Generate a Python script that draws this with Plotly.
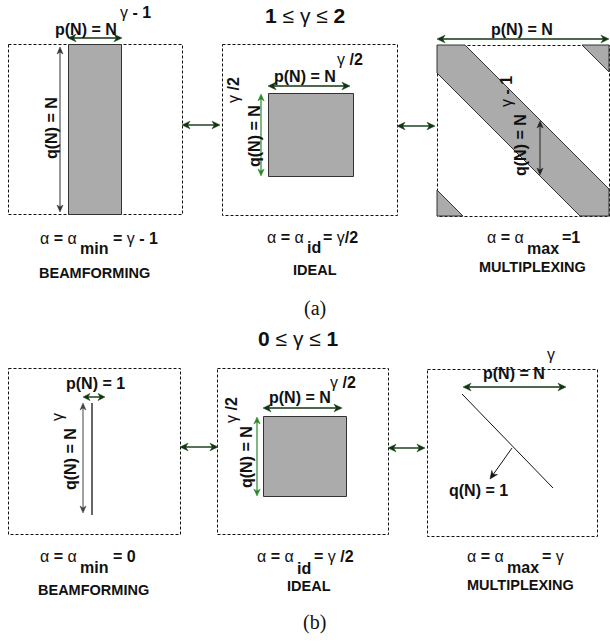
import math
import re
import plotly.graph_objects as go

# ---------------- content (text / values) ----------------
gamma_ranges = [("1", "2"), ("0", "1")]          # panel (a), panel (b)
panel_labels = ["(a)", "(b)"]
schemes = ["BEAMFORMING", "IDEAL", "MULTIPLEXING"]
alpha_subs = ["min", "id", "max"]
alpha_vals_a = ["= γ - 1", "= γ/2", "=1"]
alpha_vals_b = ["= 0", "= γ /2", "= γ"]
p_base_a = ["p(N) = N", "p(N) = N", "p(N) = N"]
p_exp_a = ["γ - 1", "γ /2", ""]
q_base_a = ["q(N) = N", "q(N) = N", "q(N) = N"]
q_exp_a = ["", "γ /2", "γ - 1"]
p_base_b = ["p(N) = 1", "p(N) = N", "p(N) = N"]
p_exp_b = ["", "γ /2", "γ"]
q_base_b = ["q(N) = N", "q(N) = N", "q(N) = 1"]
q_exp_b = ["γ", "γ /2", ""]

SANS = "Liberation Sans, Arial, sans-serif"
SERIF = "Liberation Serif, Times New Roman, serif"
INK = "#111111"
GRAY = "#ababab"
EDGE = "#333333"
ARW = "#0f360f"
GREEN = "#2a8a2a"
LBL = 16

shapes = []
ann = []


def fmt(s):
    """Bold for latin/digits, regular weight for greek/relation symbols."""
    out = []
    for run in re.findall(r"[αγ≤]+|[^αγ≤]+", s):
        if run[0] in "αγ≤":
            out.append(run)
        else:
            out.append(f"<b>{run}</b>")
    return "".join(out)


def box(x0, y0, x1, y1):
    shapes.append(dict(type="rect", x0=x0 + 0.5, y0=y0 + 0.5, x1=x1 + 0.5, y1=y1 + 0.5,
                       line=dict(color="#111111", width=1, dash="3px,2px"),
                       fillcolor="rgba(0,0,0,0)", layer="below"))


def fillrect(x0, y0, x1, y1):
    shapes.append(dict(type="rect", x0=x0 + 0.5, y0=y0 + 0.5, x1=x1 + 0.5, y1=y1 + 0.5,
                       line=dict(color=EDGE, width=1), fillcolor=GRAY))


def poly(pts, fill=GRAY, edge=EDGE, width=1):
    d = "M " + " L ".join(f"{x:.2f},{y:.2f}" for x, y in pts) + " Z"
    shapes.append(dict(type="path", path=d, line=dict(color=edge, width=width),
                       fillcolor=fill))


def line(x0, y0, x1, y1, color="#111", width=1):
    shapes.append(dict(type="line", x0=x0, y0=y0, x1=x1, y1=y1,
                       line=dict(color=color, width=width)))


def head(tx, ty, ux, uy, color, hl, hw):
    px, py = -uy, ux
    bx, by = tx - ux * hl, ty - uy * hl
    poly([(tx, ty), (bx + px * hw, by + py * hw), (bx + ux * hl * 0.3, by + uy * hl * 0.3),
          (bx - px * hw, by - py * hw)], fill=color, edge=color, width=0.5)


def arrow(x0, y0, x1, y1, color=ARW, width=1.4, both=True, hl=8, hw=3.8):
    L = math.hypot(x1 - x0, y1 - y0)
    ux, uy = (x1 - x0) / L, (y1 - y0) / L
    sx, sy = (x0 + ux * hl * 0.6, y0 + uy * hl * 0.6) if both else (x0, y0)
    line(sx, sy, x1 - ux * hl * 0.6, y1 - uy * hl * 0.6, color=color, width=width)
    head(x1, y1, ux, uy, color, hl, hw)
    if both:
        head(x0, y0, -ux, -uy, color, hl, hw)


def text(x, y, s, size=LBL, angle=0, family=SANS, color=INK, plain=False, anchor="center"):
    ann.append(dict(x=x, y=y, xref="x", yref="y", text=(s if plain else fmt(s)),
                    showarrow=False, textangle=angle, xanchor=anchor, yanchor="middle",
                    borderpad=0, font=dict(size=size, family=family, color=color)))


def alpha_label(xs, xr, ym, ys, sub, val, size=16):
    text(xs - 1, ym, "α = α", size=size, anchor="right")
    text(xs, ys, sub, size=size, anchor="left")
    text(xr, ym, val, size=size, anchor="left")


# ================= panel (a) =================
lo, hi = gamma_ranges[0]
text(305, 15, f"{lo} ≤ γ ≤ {hi}", size=21)

# box 1 : beamforming
box(8, 44, 182, 214)
fillrect(68, 44, 121, 214)
arrow(68, 38, 122, 38)
text(86, 29, p_base_a[0])
text(135, 12, p_exp_a[0])
arrow(60, 47, 60, 212, color="#333", width=1, hl=7, hw=3)
text(51, 128, q_base_a[0], angle=-90)

arrow(182, 125, 220, 125)

# box 2 : ideal
box(222, 44, 397, 215)
fillrect(268, 93, 353, 176)
arrow(268, 86, 350, 86)
text(305, 76, p_base_a[1])
text(350, 59, p_exp_a[1])
arrow(261, 94, 261, 176, color=GREEN, width=1.2, hl=7, hw=3.2)
text(254, 136, q_base_a[1], angle=-90)
text(233, 90, q_exp_a[1], angle=-90)

arrow(397, 126, 435, 126)

# box 3 : multiplexing (wrapped diagonal band)
box(437, 45, 609, 216)
poly([(437, 45), (465, 45), (609, 189), (609, 216), (580, 216), (437, 73)])
poly([(582, 45), (609, 45), (609, 72)])
poly([(437, 190), (437, 216), (463, 216)])
arrow(437, 39, 609, 39)
text(522, 29, p_base_a[2])
arrow(540, 121, 540, 175, color="#222", width=1, hl=7, hw=3)
text(520, 145, q_base_a[2], angle=-90)
text(506, 92, q_exp_a[2], angle=-90)

alpha_label(79, 112, 238, 248, alpha_subs[0], alpha_vals_a[0])
alpha_label(306, 322, 237, 247, alpha_subs[1], alpha_vals_a[1])
alpha_label(526, 561, 237, 248, alpha_subs[2], alpha_vals_a[2])
text(94, 273, schemes[0], size=14.5)
text(315, 270, schemes[1], size=14.5)
text(532, 267, schemes[2], size=14.5)
text(315, 308, panel_labels[0], size=20, family=SERIF, plain=True)

# ================= panel (b) =================
lo, hi = gamma_ranges[1]
text(298, 338, f"{lo} ≤ γ ≤ {hi}", size=21)

# box 1 : beamforming
box(8, 368, 180, 534)
line(92, 403, 92, 515, color="#666", width=2)
arrow(83, 397, 105, 397, width=1.4, hl=7, hw=3.5)
text(95, 383, p_base_b[0])
arrow(83, 403, 83, 513, color="#444", width=1, hl=7, hw=3)
text(70, 459, q_base_b[0], angle=-90)
text(57, 417, q_exp_b[0], angle=-90)

arrow(180, 447, 218, 447)

# box 2 : ideal
box(217, 368, 388, 534)
fillrect(263, 416, 346, 496)
arrow(263, 408, 342, 408)
text(300, 397, p_base_b[1])
text(343, 382, p_exp_b[1])
arrow(257, 417, 257, 496, color=GREEN, width=1.2, hl=7, hw=3.2)
text(246, 457, q_base_b[1], angle=-90)
text(231, 410, q_exp_b[1], angle=-90)

arrow(388, 448, 425, 448)

# box 3 : multiplexing
box(427, 369, 597, 536)
text(514, 373, p_base_b[2])
text(551, 354, p_exp_b[2])
arrow(463, 387, 566, 387)
line(462, 394, 553, 488, color="#111", width=1)
arrow(512, 448, 490, 479, color="#111", width=1, both=False, hl=8, hw=3.5)
text(478, 490, q_base_b[2])

alpha_label(79, 112, 556, 567, alpha_subs[0], alpha_vals_b[0])
alpha_label(296, 313, 556, 568, alpha_subs[1], alpha_vals_b[1])
alpha_label(506, 541, 556, 567, alpha_subs[2], alpha_vals_b[2])
text(93, 590, schemes[0], size=14.5)
text(309, 586, schemes[1], size=14.5)
text(520, 585, schemes[2], size=14.5)
text(314, 622, panel_labels[1], size=20, family=SERIF, plain=True)

fig = go.Figure()
fig.update_layout(
    width=610, height=643, margin=dict(l=0, r=0, t=0, b=0),
    paper_bgcolor="white", plot_bgcolor="white",
    xaxis=dict(range=[0, 610], visible=False, fixedrange=True),
    yaxis=dict(range=[643, 0], visible=False, fixedrange=True),
    shapes=shapes, annotations=ann, showlegend=False,
)
fig.write_html("out.html")
